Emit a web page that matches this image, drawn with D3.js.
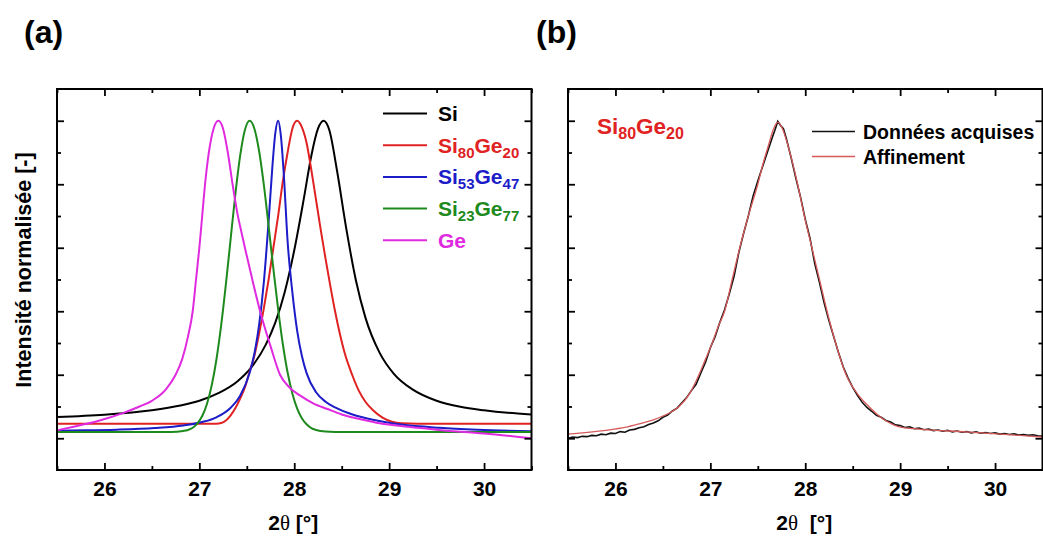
<!DOCTYPE html>
<html>
<head>
<meta charset="utf-8">
<script src="https://cdn.jsdelivr.net/npm/d3@7"></script>
<style>
  html, body { margin: 0; padding: 0; background: #fff; }
  svg { display: block; }
  text { font-family: "Liberation Sans", Arial, sans-serif; }
</style>
</head>
<body>
<svg id="chart" width="1043" height="537"></svg>
<script>
// ---------------- DATA ----------------
const xMajorTicks = [26, 27, 28, 29, 30];
const xMinorTicks = [25.5, 26.5, 27.5, 28.5, 29.5, 30.5];
const yMajorTicks = [0, 0.2, 0.4, 0.6, 0.8, 1.0];
const yMinorTicks = [0.1, 0.3, 0.5, 0.7, 0.9];
const xDomain = [25.5, 30.5];
const yDomain = [-0.1, 1.1];

// Panel (a) : Si
const siX = [25.5, 26.0, 26.5, 26.8, 27.0, 27.2, 27.4, 27.55, 27.7, 27.8, 27.9, 28.0, 28.1, 28.18, 28.25, 28.31, 28.37, 28.45, 28.55, 28.65, 28.75, 28.9, 29.05, 29.25, 29.5, 29.75, 30.0, 30.25, 30.5];
const siY = [0.067, 0.074, 0.088, 0.103, 0.118, 0.142, 0.179, 0.224, 0.295, 0.364, 0.461, 0.592, 0.753, 0.89, 0.975, 1.0, 0.97, 0.844, 0.657, 0.497, 0.38, 0.269, 0.203, 0.153, 0.118, 0.099, 0.088, 0.08, 0.075];

// Si80Ge20
const si80X = [25.5, 27.0, 27.18, 27.23, 27.28, 27.33, 27.38, 27.43, 27.48, 27.53, 27.58, 27.63, 27.68, 27.73, 27.78, 27.83, 27.88, 27.93, 27.98, 28.03, 28.08, 28.13, 28.18, 28.23, 28.28, 28.33, 28.38, 28.43, 28.48, 28.53, 28.61, 28.68, 28.75, 28.83, 28.93, 29.03, 29.13, 29.3, 30.5];
const si80Y = [0.046, 0.046, 0.046, 0.048, 0.056, 0.072, 0.095, 0.125, 0.16, 0.21, 0.26, 0.33, 0.41, 0.5, 0.6, 0.7, 0.81, 0.9, 0.975, 1.0, 0.98, 0.93, 0.845, 0.75, 0.655, 0.565, 0.48, 0.4, 0.33, 0.27, 0.2, 0.15, 0.115, 0.088, 0.065, 0.052, 0.047, 0.046, 0.046];

// Si53Ge47
const si53X = [25.5, 25.8, 26.13, 26.53, 26.83, 27.03, 27.18, 27.33, 27.43, 27.53, 27.58, 27.63, 27.68, 27.73, 27.77, 27.80, 27.83, 27.86, 27.89, 27.93, 27.98, 28.03, 28.08, 28.13, 28.23, 28.33, 28.43, 28.63, 28.83, 29.13, 29.53, 29.93, 30.5];
const si53Y = [0.024, 0.025, 0.027, 0.032, 0.04, 0.051, 0.066, 0.096, 0.134, 0.206, 0.267, 0.358, 0.493, 0.684, 0.857, 0.96, 1.0, 0.95, 0.83, 0.62, 0.46, 0.34, 0.26, 0.205, 0.145, 0.115, 0.097, 0.073, 0.058, 0.043, 0.033, 0.027, 0.022];

// Si23Ge77
const si23X = [25.5, 26.7, 26.83, 26.88, 26.93, 26.98, 27.03, 27.08, 27.13, 27.18, 27.23, 27.28, 27.33, 27.38, 27.43, 27.48, 27.53, 27.58, 27.63, 27.68, 27.73, 27.78, 27.83, 27.88, 27.93, 27.98, 28.03, 28.08, 28.13, 28.18, 28.23, 28.33, 28.43, 30.5];
const si23Y = [0.02, 0.02, 0.023, 0.026, 0.033, 0.047, 0.07, 0.108, 0.166, 0.248, 0.356, 0.486, 0.629, 0.77, 0.89, 0.971, 1.0, 0.975, 0.904, 0.797, 0.668, 0.534, 0.407, 0.296, 0.207, 0.141, 0.094, 0.063, 0.044, 0.032, 0.026, 0.021, 0.02, 0.02];

// Ge
const geX = [25.5, 25.7, 25.94, 26.2, 26.37, 26.5, 26.65, 26.75, 26.82, 26.88, 26.93, 26.965, 27.0, 27.03, 27.06, 27.1, 27.15, 27.2, 27.25, 27.3, 27.35, 27.4, 27.45, 27.48, 27.55, 27.64, 27.75, 27.85, 27.95, 28.06, 28.2, 28.35, 28.5, 28.7, 28.9, 29.2, 29.5, 30.0, 30.5];
const geY = [0.025, 0.038, 0.055, 0.08, 0.1, 0.118, 0.155, 0.2, 0.25, 0.32, 0.4, 0.5, 0.6, 0.7, 0.8, 0.9, 0.975, 1.0, 0.975, 0.9, 0.8, 0.71, 0.64, 0.6, 0.51, 0.4, 0.29, 0.2, 0.16, 0.135, 0.11, 0.092, 0.075, 0.06, 0.047, 0.036, 0.027, 0.015, 0.0];

// Panel (b) : measured data and fit
const dataX = [25.50,25.55,25.60,25.65,25.70,25.75,25.80,25.85,25.90,25.95,26.00,26.05,26.10,26.15,26.20,26.25,26.30,26.35,26.40,26.45,26.50,26.55,26.60,26.65,26.70,26.75,26.80,26.85,26.90,26.95,27.00,27.05,27.10,27.15,27.20,27.25,27.30,27.35,27.40,27.45,27.50,27.55,27.60,27.65,27.68,27.71,27.74,27.77,27.80,27.85,27.90,27.95,28.00,28.05,28.10,28.15,28.20,28.25,28.30,28.35,28.40,28.45,28.50,28.55,28.60,28.65,28.70,28.75,28.80,28.85,28.90,28.95,29.00,29.05,29.10,29.15,29.20,29.25,29.30,29.35,29.40,29.45,29.50,29.55,29.60,29.65,29.70,29.75,29.80,29.85,29.90,29.95,30.00,30.05,30.10,30.15,30.20,30.25,30.30,30.35,30.40,30.45,30.50];
const dataY = [0.000,0.004,0.002,0.006,0.005,0.009,0.008,0.013,0.011,0.016,0.015,0.021,0.019,0.026,0.028,0.033,0.036,0.043,0.048,0.055,0.066,0.073,0.086,0.095,0.112,0.128,0.150,0.170,0.206,0.240,0.285,0.320,0.365,0.405,0.455,0.510,0.585,0.645,0.700,0.762,0.810,0.855,0.900,0.945,0.970,0.998,0.985,0.975,0.945,0.885,0.820,0.760,0.690,0.630,0.550,0.490,0.425,0.370,0.320,0.270,0.225,0.190,0.160,0.135,0.113,0.097,0.085,0.072,0.066,0.056,0.051,0.042,0.040,0.034,0.036,0.030,0.032,0.027,0.029,0.024,0.026,0.022,0.025,0.020,0.023,0.019,0.021,0.017,0.020,0.016,0.018,0.015,0.017,0.013,0.015,0.012,0.014,0.010,0.012,0.009,0.011,0.008,0.007];

const fitX = [25.5, 25.9, 26.1, 26.26, 26.4, 26.5, 26.6, 26.67, 26.78, 26.88, 26.95, 27.02, 27.08, 27.15, 27.23, 27.31, 27.4, 27.5, 27.56, 27.62, 27.66, 27.71, 27.76, 27.8, 27.86, 27.92, 27.99, 28.07, 28.15, 28.23, 28.32, 28.43, 28.55, 28.67, 28.76, 28.85, 28.99, 29.2, 29.69, 30.1, 30.5];
const fitY = [0.013, 0.025, 0.034, 0.046, 0.058, 0.07, 0.085, 0.1, 0.14, 0.2, 0.25, 0.3, 0.35, 0.4, 0.5, 0.6, 0.7, 0.8, 0.87, 0.93, 0.97, 0.995, 0.975, 0.94, 0.875, 0.8, 0.7, 0.6, 0.5, 0.4, 0.3, 0.2, 0.14, 0.1, 0.075, 0.055, 0.036, 0.029, 0.02, 0.012, 0.004];

const legendB = ["Données acquises", "Affinement"];

// ---------------- DRAW ----------------
const svg = d3.select("#chart");
const zip = (xs, ys) => xs.map((x, i) => [x, ys[i]]);

const seriesA = [
  { base: "Si", sub1: "", mid: "", sub2: "", color: "#000000", pts: zip(siX, siY) },
  { base: "Si", sub1: "80", mid: "Ge", sub2: "20", color: "#e02222", pts: zip(si80X, si80Y) },
  { base: "Si", sub1: "53", mid: "Ge", sub2: "47", color: "#1c1cc8", pts: zip(si53X, si53Y) },
  { base: "Si", sub1: "23", mid: "Ge", sub2: "77", color: "#1e8a1e", pts: zip(si23X, si23Y) },
  { base: "Ge", sub1: "", mid: "", sub2: "", color: "#e02ae0", pts: zip(geX, geY) }
];

const plotTop = 89, plotBottom = 470;

function panel(left, right, id) {
  const x = d3.scaleLinear().domain(xDomain).range([left, right]);
  const y = d3.scaleLinear().domain(yDomain).range([plotBottom, plotTop]);
  const g = svg.append("g");
  g.append("clipPath").attr("id", "clip" + id)
    .append("rect").attr("x", left).attr("y", plotTop).attr("width", right - left).attr("height", plotBottom - plotTop);
  const plot = g.append("g").attr("clip-path", `url(#clip${id})`);

  const styleAxis = sel => { sel.select(".domain").remove(); sel.selectAll("line").attr("stroke", "#000").attr("stroke-width", 1.8); };
  g.append("g").attr("transform", `translate(0,${plotBottom})`)
    .call(d3.axisBottom(x).tickValues(xMajorTicks).tickSizeInner(-7).tickSizeOuter(0).tickPadding(11).tickFormat(d3.format("d")))
    .call(styleAxis)
    .call(s => s.selectAll("text").attr("font-size", 21).attr("font-weight", "bold").attr("fill", "#000")
      .attr("font-family", "Liberation Sans, Arial, sans-serif"));
  g.append("g").attr("transform", `translate(0,${plotBottom})`)
    .call(d3.axisBottom(x).tickValues(xMinorTicks).tickSizeInner(-4).tickSizeOuter(0).tickFormat(""))
    .call(styleAxis);
  g.append("g").attr("transform", `translate(0,${plotTop})`)
    .call(d3.axisTop(x).tickValues(xMajorTicks).tickSizeInner(-7).tickSizeOuter(0).tickFormat(""))
    .call(styleAxis);
  g.append("g").attr("transform", `translate(0,${plotTop})`)
    .call(d3.axisTop(x).tickValues(xMinorTicks).tickSizeInner(-4).tickSizeOuter(0).tickFormat(""))
    .call(styleAxis);
  g.append("g").attr("transform", `translate(${left},0)`)
    .call(d3.axisLeft(y).tickValues(yMajorTicks).tickSizeInner(-7).tickSizeOuter(0).tickFormat(""))
    .call(styleAxis);
  g.append("g").attr("transform", `translate(${left},0)`)
    .call(d3.axisLeft(y).tickValues(yMinorTicks).tickSizeInner(-4).tickSizeOuter(0).tickFormat(""))
    .call(styleAxis);
  g.append("g").attr("transform", `translate(${right},0)`)
    .call(d3.axisRight(y).tickValues(yMajorTicks).tickSizeInner(-7).tickSizeOuter(0).tickFormat(""))
    .call(styleAxis);
  g.append("g").attr("transform", `translate(${right},0)`)
    .call(d3.axisRight(y).tickValues(yMinorTicks).tickSizeInner(-4).tickSizeOuter(0).tickFormat(""))
    .call(styleAxis);

  const t = g.append("text").attr("x", (left + right) / 2 - 1).attr("y", 530)
    .attr("text-anchor", "middle").attr("font-size", 21).attr("fill", "#000")
    .attr("xml:space", "preserve");
  t.append("tspan").attr("font-weight", "bold").text("2");
  t.append("tspan").attr("font-family", "Liberation Serif, Times New Roman, serif").text("θ");
  t.append("tspan").attr("font-weight", "bold").text(id === "a" ? " [°]" : "  [°]");

  return { x, y, g, plot, left, right };
}

// Panel (a)
const A = panel(57, 531.5, "a");
const lineGen = (p, curve) => d3.line().x(d => p.x(d[0])).y(d => p.y(d[1])).curve(curve);
seriesA.forEach(s => {
  A.plot.append("path").datum(s.pts)
    .attr("d", lineGen(A, d3.curveMonotoneX))
    .attr("fill", "none").attr("stroke", s.color).attr("stroke-width", 2);
});

// Panel (b)
const B = panel(568, 1042.5, "b");
B.plot.append("path").datum(zip(dataX, dataY))
  .attr("d", lineGen(B, d3.curveLinear))
  .attr("fill", "none").attr("stroke", "#111").attr("stroke-width", 1.6);
B.plot.append("path").datum(zip(fitX, fitY))
  .attr("d", lineGen(B, d3.curveMonotoneX))
  .attr("fill", "none").attr("stroke", "#d65a5a").attr("stroke-width", 1.3);

[A, B].forEach(p => {
  p.g.append("rect").attr("x", p.left).attr("y", plotTop).attr("width", p.right - p.left).attr("height", plotBottom - plotTop)
    .attr("fill", "none").attr("stroke", "#000").attr("stroke-width", 2);
});

// Legend (a)
seriesA.forEach((s, i) => {
  const yy = 113.5 + i * 31.7;
  svg.append("line").attr("x1", 383).attr("x2", 427).attr("y1", yy).attr("y2", yy)
    .attr("stroke", s.color).attr("stroke-width", 2);
  const t = svg.append("text").attr("x", 438).attr("y", yy + 7.5)
    .attr("font-size", 21).attr("font-weight", "bold").attr("fill", s.color);
  t.append("tspan").text(s.base);
  if (s.sub1) {
    t.append("tspan").attr("font-size", 15).attr("dy", 5).text(s.sub1);
    t.append("tspan").attr("dy", -5).text(s.mid);
    t.append("tspan").attr("font-size", 15).attr("dy", 5).text(s.sub2);
  }
});

// Legend (b)
const legColors = ["#111", "#d65a5a"];
legendB.forEach((name, i) => {
  const yy = 131.5 + i * 25;
  svg.append("line").attr("x1", 812).attr("x2", 855).attr("y1", yy).attr("y2", yy)
    .attr("stroke", legColors[i]).attr("stroke-width", 1.5);
  svg.append("text").attr("x", 863).attr("y", yy + 7)
    .attr("font-size", 19.5).attr("font-weight", "bold").attr("fill", "#000").text(name);
});

// Sample label in (b)
{
  const t = svg.append("text").attr("x", 597).attr("y", 134)
    .attr("font-size", 22.5).attr("font-weight", "bold").attr("fill", "#e02222");
  t.append("tspan").text("Si");
  t.append("tspan").attr("font-size", 16).attr("dy", 5).text("80");
  t.append("tspan").attr("dy", -5).text("Ge");
  t.append("tspan").attr("font-size", 16).attr("dy", 5).text("20");
}

// Panel titles
svg.append("text").attr("x", 24).attr("y", 43).attr("font-size", 32).attr("font-weight", "bold").text("(a)");
svg.append("text").attr("x", 536).attr("y", 43).attr("font-size", 32).attr("font-weight", "bold").text("(b)");

// Y axis title
svg.append("text").attr("transform", "translate(24,270) rotate(-90)")
  .attr("text-anchor", "middle").attr("dominant-baseline", "central")
  .attr("font-size", 21.5).attr("font-weight", "bold").attr("fill", "#000")
  .text("Intensité normalisée [-]");
</script>
</body>
</html>
